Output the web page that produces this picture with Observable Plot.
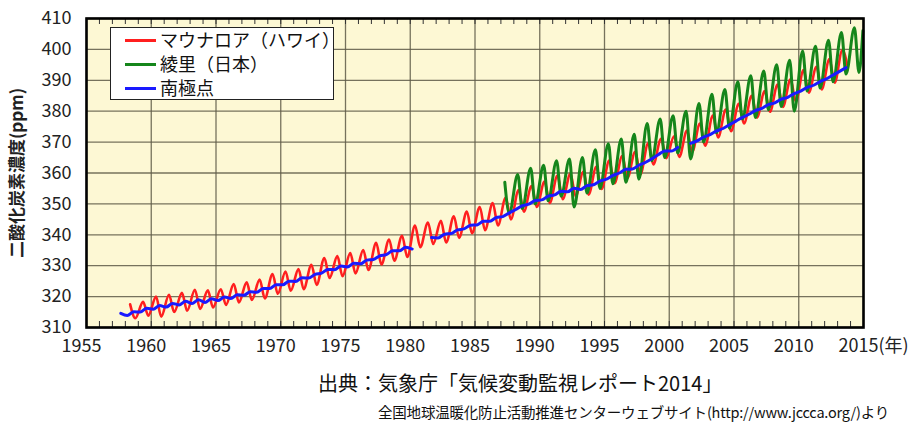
<!DOCTYPE html>
<html><head><meta charset="utf-8">
<script src="https://cdn.jsdelivr.net/npm/d3@7"></script>
<script src="https://cdn.jsdelivr.net/npm/@observablehq/plot@0.6"></script>
<style>
body{margin:0;background:#fff;font-family:"Noto Sans CJK JP","Noto Sans",sans-serif;}
#wrap{position:relative;width:911px;height:423px;overflow:hidden;}
#legend{position:absolute;left:110px;top:27px;width:224px;height:73px;background:#fff;border:1.6px solid #222;box-sizing:border-box;}
.row{position:absolute;left:0;height:24px;line-height:24px;font-size:18px;color:#111;white-space:nowrap;}
.sw{position:absolute;left:14px;top:11px;width:31px;height:3px;}
.lt{position:absolute;left:49px;top:-1px;}
#cap1{position:absolute;left:318px;top:368px;font-size:20px;color:#111;white-space:nowrap;}
#cap2{position:absolute;left:378px;top:401px;font-size:14.5px;color:#111;white-space:nowrap;letter-spacing:-0.2px;}
</style></head>
<body><div id="wrap"><div id="chart"></div>
<div id="legend"></div>
<div id="cap1">出典：気象庁「気候変動監視レポート2014」</div>
<div id="cap2">全国地球温暖化防止活動推進センターウェブサイト(http://www.jccca.org/)より</div>
</div>
<script>
// tick labels
const xTicks = [1955,1960,1965,1970,1975,1980,1985,1990,1995,2000,2005,2010,2015];
const yTicks = [310,320,330,340,350,360,370,380,390,400,410];
const minorYears = d3.range(1956, 2015);

// series names / colors
const seriesNames = ["マウナロア（ハワイ）","綾里（日本）","南極点"];
const seriesColors = ["#ff1f1f","#15861b","#1a1aff"];

// Mauna Loa (Hawaii): yearly seasonal peak and trough
const mlYears = [1958,1959,1960,1961,1962,1963,1964,1965,1966,1967,1968,1969,1970,1971,1972,1973,1974,1975,1976,1977,1978,1979,1980,1981,1982,1983,1984,1985,1986,1987,1988,1989,1990,1991,1992,1993,1994,1995,1996,1997,1998,1999,2000,2001,2002,2003,2004,2005,2006,2007,2008,2009,2010,2011,2012,2013];
const mlPeak = [317.5,318.3,320.0,320.6,321.2,322.2,322.0,322.4,324.1,324.6,325.5,327.3,328.1,328.9,330.3,332.5,333.1,334.1,335.1,337.4,338.5,339.7,343.0,344.0,344.5,346.0,347.5,349.0,350.3,352.0,354.5,355.8,357.2,359.2,359.8,360.4,362.0,364.0,365.5,366.9,369.6,371.1,371.9,373.7,376.0,378.6,380.5,382.4,385.0,386.5,388.6,390.3,393.3,394.4,396.9,399.8];
const mlTrough = [313.0,313.8,313.5,315.0,315.4,316.0,316.5,317.3,318.1,318.9,319.4,320.9,321.9,322.4,323.8,326.0,326.6,327.5,328.6,330.4,331.6,332.8,336.0,337.0,337.5,339.0,340.5,341.5,343.0,345.0,347.5,349.0,350.3,351.5,352.5,353.0,354.8,356.7,358.4,359.6,362.8,364.8,365.2,366.8,368.8,371.5,373.5,376.0,377.9,379.8,381.4,383.2,386.0,387.0,389.2,394.5];

// Ryori (Japan)
const ryYears = [1987,1988,1989,1990,1991,1992,1993,1994,1995,1996,1997,1998,1999,2000,2001,2002,2003,2004,2005,2006,2007,2008,2009,2010,2011,2012,2013,2014];
const ryPeak = [357.0,359.5,361.5,362.5,364.0,364.5,365.0,367.5,369.5,371.0,372.5,376.0,377.5,378.5,380.0,382.5,385.5,387.0,389.5,391.5,393.0,395.0,396.5,399.5,401.0,403.0,405.5,407.0];
const ryTrough = [347.0,348.5,350.0,351.0,352.5,349.0,353.5,355.0,356.5,357.0,358.0,364.0,365.0,366.5,364.5,370.0,373.0,374.5,377.5,378.0,380.5,381.5,380.0,386.5,387.5,389.5,392.0,392.5];
const ryLast = {t: 2014.95, v: 406.0};

// South Pole: yearly seasonal low and high (null = missing)
const spYears = [1957,1958,1959,1960,1961,1962,1963,1964,1965,1966,1967,1968,1969,1970,1971,1972,1973,1974,1975,1976,1977,1978,1979,1980,1981,1982,1983,1984,1985,1986,1987,1988,1989,1990,1991,1992,1993,1994,1995,1996,1997,1998,1999,2000,2001,2002,2003,2004,2005,2006,2007,2008,2009,2010,2011,2012,2013];
const spLow = [null,313.9,315.0,315.9,316.6,317.3,317.8,318.1,318.7,319.4,320.4,321.4,322.6,323.8,324.9,326.0,327.6,328.7,329.6,330.6,332.0,333.6,334.8,335.4,null,339.0,340.4,341.9,343.2,344.4,345.9,348.2,349.9,351.3,352.9,353.9,354.7,356.2,358.0,360.0,361.3,363.4,365.9,367.1,null,370.4,372.4,374.4,376.8,379.0,380.9,382.7,384.5,386.5,388.4,390.5,392.9];
const spHigh = [314.6,315.1,316.2,317.1,317.8,318.5,319.0,319.3,319.9,320.6,321.6,322.6,323.8,325.0,326.1,327.2,328.8,329.9,330.8,331.8,333.2,334.8,336.0,null,339.1,340.2,341.6,343.1,344.4,345.6,347.1,349.4,351.1,352.5,354.1,355.1,355.9,357.4,359.2,361.2,362.5,364.6,367.1,368.3,369.6,371.6,373.6,375.6,378.0,380.2,382.1,383.9,385.7,387.7,389.6,391.7,394.1];

const ml = mlYears.flatMap((yr, i) => [{t: yr + 0.37, v: mlPeak[i]}, {t: yr + 0.77, v: mlTrough[i]}]);
const ry = ryYears.flatMap((yr, i) => [{t: yr + 0.3, v: ryPeak[i]}, {t: yr + 0.65, v: ryTrough[i]}]).concat([ryLast]);
const sp = spYears.flatMap((yr, i) => [{t: yr + 0.15, v: spLow[i] ?? NaN}, {t: yr + 0.65, v: spHigh[i] ?? NaN}]);

const font = '"Noto Sans CJK JP","Noto Sans",sans-serif';
const innerH = 362 - 18 - 35;
const chart = Plot.plot({
  width: 911, height: 362,
  marginLeft: 86, marginRight: 48, marginTop: 18, marginBottom: 35,
  x: {domain: [1955, 2015]},
  y: {domain: [310, 410]},
  style: {fontFamily: font, background: "transparent", overflow: "visible"},
  marks: [
    Plot.frame({fill: "#fdf8d4"}),
    Plot.gridX(xTicks, {stroke: "#5e5a48", strokeOpacity: 0.85, strokeWidth: 1.3}),
    Plot.gridY(yTicks, {stroke: "#5e5a48", strokeOpacity: 0.85, strokeWidth: 1.3}),
    Plot.tickX(minorYears, {x: d => d, insetTop: innerH - 6, stroke: "#333", strokeWidth: 1}),
    Plot.tickX(minorYears, {x: d => d, insetBottom: innerH - 6, stroke: "#333", strokeWidth: 1}),
    Plot.line(ml, {x: "t", y: "v", stroke: seriesColors[0], strokeWidth: 2.6, curve: "monotone-x"}),
    Plot.line(ry, {x: "t", y: "v", stroke: seriesColors[1], strokeWidth: 3, curve: "monotone-x"}),
    Plot.line(sp, {x: "t", y: "v", stroke: seriesColors[2], strokeWidth: 3, curve: "monotone-x"}),
    Plot.frame({stroke: "#000", strokeWidth: 2.6}),
    Plot.axisY(yTicks, {tickSize: 0, tickPadding: 15, fontSize: 18, fill: "#222", label: null}),
    Plot.axisX(xTicks, {tickSize: 0, tickPadding: 12, fontSize: 18, fill: "#222", label: null,
      textAnchor: "start", dx: -25, tickFormat: d => d === 2015 ? "2015(年)" : String(d)}),
    Plot.text(["二酸化炭素濃度(ppm)"], {frameAnchor: "left", textAnchor: "middle", rotate: -90, dx: -69, fontSize: 17, fontWeight: "bold", fill: "#222"})
  ]
});
document.getElementById("chart").appendChild(chart);

const lg = document.getElementById("legend");
seriesNames.forEach((n, i) => {
  const r = document.createElement("div");
  r.className = "row";
  r.style.top = (i * 24) + "px";
  r.innerHTML = `<span class="sw" style="background:${seriesColors[i]}"></span><span class="lt">${n}</span>`;
  lg.appendChild(r);
});
</script></body></html>
